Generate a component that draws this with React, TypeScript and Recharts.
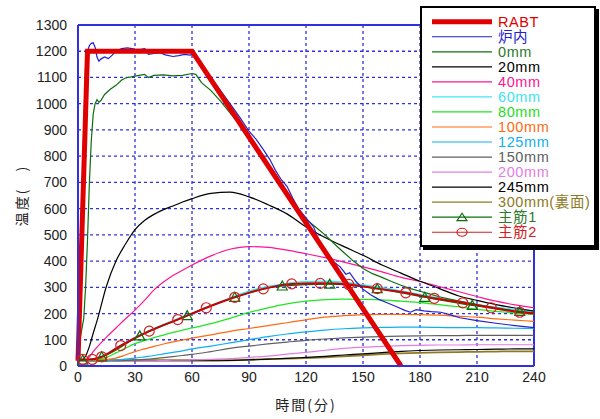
import React from 'react';
import { LineChart, Line, XAxis, YAxis, CartesianGrid, ReferenceLine } from 'recharts';

// shared time axis for the smooth in-depth curves (min)
const minutes = [0, 2, 4, 6, 8, 10, 15, 20, 25, 30, 35, 40, 45, 50, 55, 60, 70, 80, 90, 100, 110, 120, 130, 140, 150, 160, 170, 180, 190, 200, 210, 220, 230, 240];

const mm20 = [20, 22, 38, 75, 125, 172, 305, 400, 465, 520, 555, 578, 596, 610, 625, 638, 658, 663, 645, 615, 580, 530, 490, 455, 422, 385, 354, 323, 296, 268, 250, 234, 221, 209];
const mm40 = [20, 20, 22, 35, 55, 72, 110, 145, 180, 213, 250, 290, 320, 345, 365, 385, 420, 445, 455, 452, 442, 428, 413, 396, 378, 359, 338, 322, 303, 284, 265, 247, 233, 222];
const mm60 = [20, 20, 22, 24, 27, 30, 45, 65, 88, 108, 126, 142, 158, 172, 186, 200, 230, 258, 284, 302, 314, 320, 322, 318, 309, 298, 285, 272, 258, 246, 234, 223, 214, 208];
const mm80 = [20, 20, 20, 21, 23, 25, 33, 50, 68, 85, 97, 108, 118, 128, 137, 145, 162, 182, 204, 222, 237, 247, 253, 255, 254, 252, 247, 242, 234, 226, 216, 208, 202, 197];
const mm100 = [20, 20, 20, 20, 21, 22, 25, 30, 42, 55, 65, 75, 84, 92, 99, 106, 119, 132, 143, 154, 165, 176, 186, 192, 196, 197, 197, 196, 194, 190, 186, 180, 175, 170];
const mm125 = [20, 20, 20, 20, 20, 20, 21, 23, 26, 30, 35, 40, 46, 52, 58, 65, 76, 88, 100, 112, 122, 130, 137, 142, 145, 147, 148, 148, 147, 146, 146, 145, 144, 143];
const mm150 = [20, 20, 20, 20, 20, 20, 20, 20, 21, 23, 25, 28, 32, 36, 40, 44, 55, 67, 76, 84, 91, 98, 103, 107, 110, 112, 114, 115, 116, 116, 117, 117, 117, 117];
const mm200 = [20, 20, 20, 20, 20, 20, 20, 20, 20, 20, 20, 20, 21, 22, 22, 23, 25, 28, 33, 38, 45, 52, 60, 67, 72, 75, 78, 79, 80, 80, 81, 81, 81, 81];
const mm245 = [20, 20, 20, 20, 20, 20, 20, 20, 20, 20, 20, 20, 20, 20, 20, 20, 20, 21, 23, 26, 29, 33, 37, 42, 46, 51, 56, 59, 61, 62, 63, 64, 65, 65];
const mm300 = [22, 22, 22, 22, 22, 22, 22, 22, 22, 22, 22, 22, 22, 22, 22, 22, 22, 22, 24, 26, 28, 30, 33, 37, 41, 45, 48, 50, 52, 53, 54, 55, 56, 56];

// RABT curve
const rabtMinutes = [0, 5, 60, 170];
const rabtTemp = [20, 1200, 1200, 0];

// furnace (炉内)
const furnaceMinutes = [0, 1, 2, 3, 4, 5, 6, 7, 8, 9, 10, 11, 12, 14, 16, 18, 20, 23, 26, 30, 33, 35, 36, 37, 40, 43, 46, 50, 53, 56, 59, 61, 63, 66, 70, 75, 80, 85, 90, 94, 98, 101, 104, 107, 110, 113, 116, 120, 124, 127, 130, 134, 138, 141, 143, 146, 150, 154, 158, 163, 168, 172, 175, 178, 182, 186, 191, 196, 201, 210, 220, 230, 240];
const furnaceTemp = [20, 350, 600, 900, 1150, 1200, 1222, 1230, 1232, 1215, 1178, 1162, 1170, 1178, 1172, 1185, 1200, 1210, 1213, 1208, 1207, 1210, 1205, 1188, 1192, 1194, 1186, 1180, 1183, 1188, 1185, 1192, 1170, 1140, 1100, 1050, 1000, 950, 895, 862, 820, 787, 745, 710, 685, 640, 600, 565, 530, 475, 440, 400, 378, 350, 356, 325, 293, 272, 255, 240, 225, 212, 205, 215, 210, 207, 205, 195, 184, 173, 163, 154, 146];

// surface 0mm
const surfaceMinutes = [0, 1, 2, 3, 4, 5, 6, 7, 8, 9, 10, 11, 12, 14, 17, 20, 23, 25, 30, 35, 37, 40, 45, 50, 55, 60, 62, 65, 70, 75, 80, 85, 90, 95, 100, 105, 110, 115, 120, 125, 130, 135, 140, 145, 150, 155, 160, 165, 170, 175, 180, 185, 190, 200, 210, 220, 230, 240];
const surfaceTemp = [20, 100, 140, 180, 300, 480, 700, 860, 960, 1000, 1015, 1005, 1012, 1035, 1055, 1070, 1090, 1098, 1105, 1112, 1100, 1108, 1110, 1106, 1108, 1115, 1112, 1080, 1050, 1010, 965, 920, 865, 815, 765, 710, 655, 600, 560, 530, 500, 465, 432, 400, 372, 352, 338, 322, 308, 295, 285, 275, 264, 248, 234, 222, 210, 200];

// rebars (主筋)
const rebar1Minutes = [0, 2.5, 12.5, 32.5, 57.5, 82.5, 107.5, 132.5, 157.5, 182.5, 207.5, 232.5, 240];
const rebar1Temp = [20, 22, 35, 115, 192, 262, 305, 312, 295, 262, 231, 208, 202];
const rebar2Minutes = [0, 2.5, 7.5, 12.5, 22.5, 37.5, 52.5, 67.5, 82.5, 97.5, 112.5, 127.5, 142.5, 157.5, 172.5, 187.5, 202.5, 217.5, 232.5, 240];
const rebar2Temp = [20, 25, 25, 35, 78, 133, 177, 222, 262, 294, 313, 315, 311, 295, 279, 258, 241, 222, 205, 200];

const xTicks = [0, 30, 60, 90, 120, 150, 180, 210, 240];
const yTicks = [0, 100, 200, 300, 400, 500, 600, 700, 800, 900, 1000, 1100, 1200, 1300];

const legendItems = [
  { label: 'RABT', color: '#e00000', width: 5, text: '#e00000' },
  { label: '炉内', color: '#2020d0', width: 1.2, text: '#2020d0' },
  { label: '0mm', color: '#0c6e0c', width: 1.2, text: '#2a7a2a' },
  { label: '20mm', color: '#000000', width: 1.2, text: '#000000' },
  { label: '40mm', color: '#ff1493', width: 1.2, text: '#ff1493' },
  { label: '60mm', color: '#40e4f4', width: 1.2, text: '#40e4f4' },
  { label: '80mm', color: '#22e622', width: 1.2, text: '#22dd22' },
  { label: '100mm', color: '#ff6a10', width: 1.2, text: '#ff6a10' },
  { label: '125mm', color: '#10b0f0', width: 1.2, text: '#10b0f0' },
  { label: '150mm', color: '#606060', width: 1.2, text: '#606060' },
  { label: '200mm', color: '#e27ee2', width: 1.2, text: '#e27ee2' },
  { label: '245mm', color: '#000000', width: 1.2, text: '#000000' },
  { label: '300mm(裏面)', color: '#8e7a22', width: 1.2, text: '#8e7a22' },
  { label: '主筋1', color: '#0c6e0c', width: 1.2, text: '#2a7a2a' },
  { label: '主筋2', color: '#d42020', width: 1.2, text: '#d42020' },
];

const toRows = (ts: number[], vs: number[]) => ts.map((t, i) => ({ t, v: vs[i] }));

const GRID = '#3030dd';
const FONT = "'Liberation Sans', Arial, 'Noto Sans CJK JP', sans-serif";
const CJK = "'Noto Sans CJK JP', sans-serif";

const circleDot = (p: any) => {
  const k = `c-${p.index}`;
  if (p.index === 0 || p.index === rebar2Minutes.length - 1) return <g key={k} />;
  return <circle key={k} cx={p.cx} cy={p.cy} r={5} fill="none" stroke="#d42020" strokeWidth={1.2} />;
};

const triangleDot = (p: any) => {
  const k = `t-${p.index}`;
  if (p.index === 0 || p.index === rebar1Minutes.length - 1) return <g key={k} />;
  const { cx, cy } = p;
  return (
    <polygon key={k} points={`${cx},${cy - 5} ${cx - 5},${cy + 4} ${cx + 5},${cy + 4}`}
      fill="none" stroke="#0c6e0c" strokeWidth={1.2} />
  );
};

function LegendBox() {
  return (
    <div style={{
      position: 'absolute', left: 420, top: 6, width: 176, height: 241, boxSizing: 'border-box',
      border: '2px solid #000', boxShadow: '3px 3px 0 #000', background: '#fff',
    }}>
      <svg width={172} height={237} style={{ display: 'block' }}>
        {legendItems.map((it, i) => {
          const y = 13.7 + i * 15.04;
          return (
            <g key={it.label}>
              <line x1={10} x2={70} y1={y} y2={y} stroke={it.color} strokeWidth={it.width} />
              {it.label === '主筋1' && (
                <polygon points={`40,${y - 4} 35,${y + 3.5} 45,${y + 3.5}`} fill="none" stroke="#0c6e0c" strokeWidth={1.2} />
              )}
              {it.label === '主筋2' && (
                <ellipse cx={40} cy={y} rx={5} ry={4} fill="none" stroke="#d42020" strokeWidth={1.2} />
              )}
              <text x={76} y={y} dominantBaseline="central" fontSize={14.5} letterSpacing={0.6}
                fontFamily={FONT} fill={it.text}>{it.label}</text>
            </g>
          );
        })}
      </svg>
    </div>
  );
}

export default function App() {
  const tick = { fill: '#222', fontSize: 14, fontFamily: FONT };
  return (
    <div style={{ position: 'absolute', left: 0, top: 0, width: 600, height: 419, background: '#fff' }}>
      <LineChart width={600} height={419} margin={{ top: 25, right: 66, left: 0, bottom: 0 }}>
        <CartesianGrid stroke={GRID} strokeDasharray="3 3" strokeWidth={1.3} />
        <XAxis dataKey="t" type="number" domain={[0, 240]} ticks={xTicks} height={53}
          axisLine={{ stroke: GRID, strokeWidth: 2 }} tickLine={false} tick={tick} tickMargin={0}
          label={{ value: '時間(分)', position: 'insideBottom', offset: 9, fill: '#222', fontSize: 14, fontFamily: CJK, letterSpacing: 2 }} />
        <YAxis type="number" domain={[0, 1300]} ticks={yTicks} width={78} interval={0}
          axisLine={{ stroke: GRID, strokeWidth: 2 }} tickLine={false} tick={tick} tickMargin={5}
          label={{ value: '温度(　)', angle: -90, position: 'insideLeft', offset: 22, fill: '#222', fontSize: 14, fontFamily: CJK, letterSpacing: 2, style: { textAnchor: 'middle' } }} />
        <ReferenceLine y={1300} stroke={GRID} strokeWidth={2} />
        <ReferenceLine x={240} stroke={GRID} strokeWidth={2} />

        <Line data={toRows(minutes, mm300)} dataKey="v" name="300mm" type="monotone" stroke="#8e7a22" strokeWidth={1.8} dot={false} isAnimationActive={false} />
        <Line data={toRows(minutes, mm245)} dataKey="v" name="245mm" type="monotone" stroke="#000" strokeWidth={1.2} dot={false} isAnimationActive={false} />
        <Line data={toRows(minutes, mm200)} dataKey="v" name="200mm" type="monotone" stroke="#e27ee2" strokeWidth={1.2} dot={false} isAnimationActive={false} />
        <Line data={toRows(minutes, mm150)} dataKey="v" name="150mm" type="monotone" stroke="#606060" strokeWidth={1.2} dot={false} isAnimationActive={false} />
        <Line data={toRows(minutes, mm125)} dataKey="v" name="125mm" type="monotone" stroke="#10b0f0" strokeWidth={1.2} dot={false} isAnimationActive={false} />
        <Line data={toRows(minutes, mm100)} dataKey="v" name="100mm" type="monotone" stroke="#ff6a10" strokeWidth={1.2} dot={false} isAnimationActive={false} />
        <Line data={toRows(minutes, mm80)} dataKey="v" name="80mm" type="monotone" stroke="#22e622" strokeWidth={1.3} dot={false} isAnimationActive={false} />
        <Line data={toRows(minutes, mm60)} dataKey="v" name="60mm" type="monotone" stroke="#40e4f4" strokeWidth={2} dot={false} isAnimationActive={false} />
        <Line data={toRows(minutes, mm40)} dataKey="v" name="40mm" type="monotone" stroke="#ff1493" strokeWidth={1.2} dot={false} isAnimationActive={false} />
        <Line data={toRows(minutes, mm20)} dataKey="v" name="20mm" type="monotone" stroke="#000" strokeWidth={1.2} dot={false} isAnimationActive={false} />
        <Line data={toRows(surfaceMinutes, surfaceTemp)} dataKey="v" name="0mm" type="linear" stroke="#0c6e0c" strokeWidth={1.2} dot={false} isAnimationActive={false} />
        <Line data={toRows(furnaceMinutes, furnaceTemp)} dataKey="v" name="炉内" type="linear" stroke="#2020d0" strokeWidth={1.2} dot={false} isAnimationActive={false} />
        <Line data={toRows(rebar1Minutes, rebar1Temp)} dataKey="v" name="主筋1" type="monotone" stroke="#0c6e0c" strokeWidth={1.2} dot={triangleDot} isAnimationActive={false} />
        <Line data={toRows(rebar2Minutes, rebar2Temp)} dataKey="v" name="主筋2" type="monotone" stroke="#c80000" strokeWidth={2} dot={circleDot} isAnimationActive={false} />
        <Line data={toRows(rabtMinutes, rabtTemp)} dataKey="v" name="RABT" type="linear" stroke="#e00000" strokeWidth={5} dot={false} isAnimationActive={false} />
      </LineChart>
      <LegendBox />
    </div>
  );
}
